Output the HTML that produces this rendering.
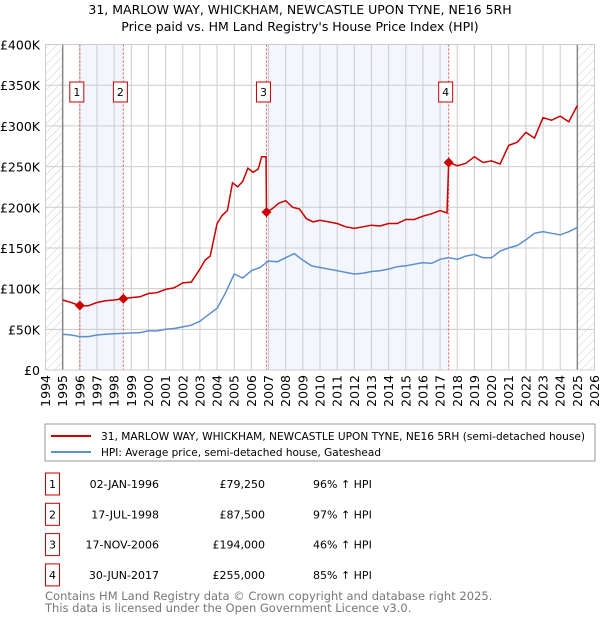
<!DOCTYPE html>
<html><head><meta charset="utf-8"><style>
body{margin:0;background:#fff;font-family:"Liberation Sans","DejaVu Sans",sans-serif}
svg text{font-family:"DejaVu Sans","Liberation Sans",sans-serif}
</style></head><body>
<svg id="c" width="600" height="620" xmlns="http://www.w3.org/2000/svg">
<defs><pattern id="h" width="6" height="6" patternUnits="userSpaceOnUse" patternTransform="rotate(45)"><line x1="0" y1="0" x2="0" y2="6" stroke="#ccc" stroke-width="1"/></pattern></defs>
<text x="300" y="14" text-anchor="middle" font-size="12.5" fill="#000">31, MARLOW WAY, WHICKHAM, NEWCASTLE UPON TYNE, NE16 5RH</text>
<text x="300" y="31" text-anchor="middle" font-size="12.5" fill="#000">Price paid vs. HM Land Registry's House Price Index (HPI)</text>
<g id="plot"></g>
<rect x="45" y="424" width="550" height="37" fill="#fff" stroke="#999"/>
<line x1="51" y1="436" x2="91" y2="436" stroke="#cc0000" stroke-width="2"/>
<text x="101" y="440" font-size="10.5" textLength="484" lengthAdjust="spacingAndGlyphs">31, MARLOW WAY, WHICKHAM, NEWCASTLE UPON TYNE, NE16 5RH (semi-detached house)</text>
<line x1="51" y1="452" x2="91" y2="452" stroke="#5b8fd0" stroke-width="2"/>
<text x="101" y="456" font-size="10.5" textLength="280" lengthAdjust="spacingAndGlyphs">HPI: Average price, semi-detached house, Gateshead</text>
<g id="tbl" font-size="11"></g>
<text x="45" y="600" font-size="11.5" fill="#777">Contains HM Land Registry data © Crown copyright and database right 2025.</text>
<text x="45" y="612" font-size="11.5" fill="#777">This data is licensed under the Open Government Licence v3.0.</text>
</svg>
<script>
const hpiYears=[1995,1995.5,1996,1996.5,1997,1997.5,1998,1998.5,1999,1999.5,2000,2000.5,2001,2001.5,2002,2002.5,2003,2003.5,2004,2004.5,2005,2005.5,2006,2006.5,2007,2007.5,2008,2008.5,2009,2009.5,2010,2010.5,2011,2011.5,2012,2012.5,2013,2013.5,2014,2014.5,2015,2015.5,2016,2016.5,2017,2017.5,2018,2018.5,2019,2019.5,2020,2020.5,2021,2021.5,2022,2022.5,2023,2023.5,2024,2024.5,2025];
const hpiValues=[44,43,41,41,43,44,44.5,45,45.5,46,48,48,50,51,53,55,60,68,76,95,118,113,122,126,134,133,138,143,135,128,126,124,122,120,118,119,121,122,124,127,128,130,132,131,136,138,136,140,142,138,138,146,150,153,160,168,170,168,166,170,175];
const priceYears=[1995,1995.5,1996,1996.5,1997,1997.5,1998,1998.54,1999,1999.5,2000,2000.5,2001,2001.5,2002,2002.5,2003,2003.3,2003.6,2004,2004.3,2004.6,2004.9,2005.2,2005.5,2005.8,2006.1,2006.4,2006.6,2006.85,2006.88,2007.2,2007.6,2008,2008.4,2008.8,2009.2,2009.6,2010,2010.5,2011,2011.5,2012,2012.5,2013,2013.5,2014,2014.5,2015,2015.5,2016,2016.5,2017,2017.4,2017.5,2018,2018.5,2019,2019.5,2020,2020.5,2021,2021.5,2022,2022.5,2023,2023.5,2024,2024.5,2025];
const priceValues=[86,83,79,79,83,85,86,87.5,89,90,94,95,99,101,107,108,124,135,140,180,190,196,230,225,232,248,243,247,262,262,194,198,205,208,200,198,186,182,184,182,180,176,174,176,178,177,180,180,185,185,189,192,196,193,255,251,254,262,255,257,253,276,280,292,285,310,307,312,305,325];
const sales=[{n:'1',t:1996.0,v:79.25,d:'02-JAN-1996',p:'£79,250',h:'96% ↑ HPI'},{n:'2',t:1998.54,v:87.5,d:'17-JUL-1998',p:'£87,500',h:'97% ↑ HPI'},{n:'3',t:2006.88,v:194,d:'17-NOV-2006',p:'£194,000',h:'46% ↑ HPI'},{n:'4',t:2017.5,v:255,d:'30-JUN-2017',p:'£255,000',h:'85% ↑ HPI'}];
const yTicks=[0,50,100,150,200,250,300,350,400];
const xTicks=[1994,1995,1996,1997,1998,1999,2000,2001,2002,2003,2004,2005,2006,2007,2008,2009,2010,2011,2012,2013,2014,2015,2016,2017,2018,2019,2020,2021,2022,2023,2024,2025,2026];
const X0=45.5,X1=594.5,Y0=370,Y1=44.5;
const xs=t=>X0+(t-1994)/32*(X1-X0);
const ys=v=>Y0-v/400*(Y0-Y1);
const NS='http://www.w3.org/2000/svg';
const g=document.getElementById('plot');
function mk(tag,a,parent){const e=document.createElementNS(NS,tag);for(const k in a)e.setAttribute(k,a[k]);(parent||g).appendChild(e);return e;}
let e;
e=mk('rect',{x:xs(sales[0].t),y:Y1,width:xs(sales[1].t)-xs(sales[0].t),height:Y0-Y1,fill:'#f3f6fd'});


e=mk('rect',{x:xs(sales[2].t),y:Y1,width:xs(sales[3].t)-xs(sales[2].t),height:Y0-Y1,fill:'#f3f6fd'});


e=mk('rect',{x:X0,y:Y1,width:xs(1995)-X0,height:Y0-Y1,fill:'url(#h)'});


e=mk('rect',{x:xs(2025),y:Y1,width:X1-xs(2025),height:Y0-Y1,fill:'url(#h)'});


yTicks.forEach(v=>{
 e=mk('line',{x1:X0,x2:X1,y1:ys(v),y2:ys(v),stroke:'#ccc'});
 
 
 e=mk('text',{x:40,y:ys(v)+5,'text-anchor':'end','font-size':'12.5'});
 e.textContent=v===0?'£0':'£'+v+'K';
 
 
});
xTicks.forEach(t=>{
 e=mk('line',{x1:xs(t),x2:xs(t),y1:Y1,y2:Y0,stroke:'#ccc'});
 
 
 e=mk('text',{x:0,y:0,'text-anchor':'end','font-size':'12.5',transform:`translate(${xs(t)+4.5},375) rotate(-90)`});
 e.textContent=t;
 
 
});
[1995,2025].forEach(t=>{e=mk('line',{x1:xs(t),x2:xs(t),y1:Y1,y2:Y0,stroke:'#888','stroke-width':1.5});
 
 });
sales.forEach(s=>{
 e=mk('line',{x1:xs(s.t),x2:xs(s.t),y1:Y1,y2:Y0,stroke:'#e05050','stroke-dasharray':'2,2'});
 
 
});
const path=(xa,va)=>xa.map((t,i)=>(i?'L':'M')+xs(t).toFixed(1)+','+ys(va[i]).toFixed(1)).join('');
e=mk('path',{d:path(hpiYears,hpiValues),fill:'none',stroke:'#5b8fd0','stroke-width':1.5});


e=mk('path',{d:path(priceYears,priceValues),fill:'none',stroke:'#cc0000','stroke-width':1.5});


sales.forEach(s=>{
 const cx=xs(s.t),cy=ys(s.v);
 e=mk('path',{d:`M${cx},${cy-5}L${cx+5},${cy}L${cx},${cy+5}L${cx-5},${cy}Z`,fill:'#cc0000'});
 
 
 e=mk('rect',{x:cx-10,y:82,width:14,height:20,fill:'#fff',stroke:'#cc0000'});
 
 
 e=mk('text',{x:cx-3,y:96,'text-anchor':'middle','font-size':'11'});
 e.textContent=s.n;
 
 
});
e=mk('rect',{x:X0,y:Y1,width:X1-X0,height:Y0-Y1,fill:'none',stroke:'#ccc'});


const tb=document.getElementById('tbl');
sales.forEach((s,i)=>{
 const y=484+i*30.3;
 e=mk('rect',{x:45.5,y:y-11,width:14,height:22,fill:'#fff',stroke:'#cc0000'},tb);
 
 
 e=mk('text',{x:52.5,y:y+4,'text-anchor':'middle'},tb);e.textContent=s.n;
 
 
 e=mk('text',{x:159,y:y+4,'text-anchor':'end'},tb);e.textContent=s.d;
 
 
 e=mk('text',{x:265,y:y+4,'text-anchor':'end'},tb);e.textContent=s.p;
 
 
 e=mk('text',{x:313,y:y+4},tb);e.textContent=s.h;
 
 
});
</script>
</body></html>
